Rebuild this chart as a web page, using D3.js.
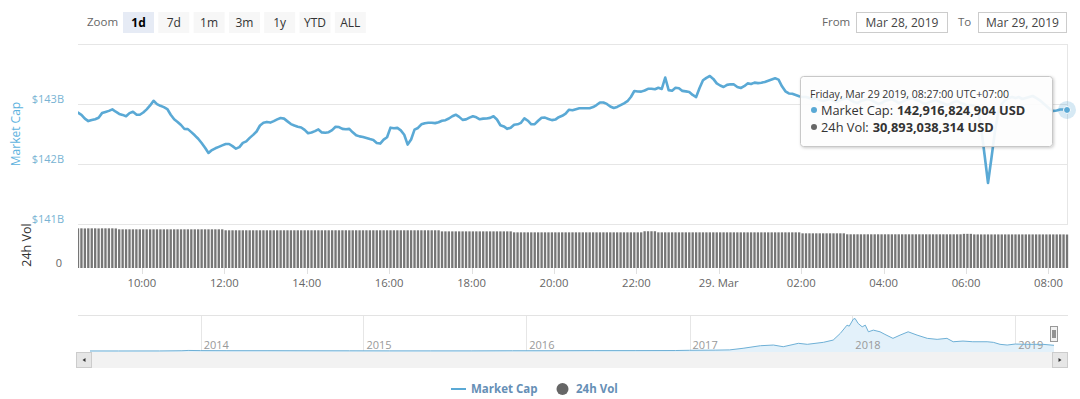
<!DOCTYPE html>
<html>
<head>
<meta charset="utf-8">
<script src="https://cdn.jsdelivr.net/npm/d3@7"></script>
<style>
  html, body { margin: 0; padding: 0; background: #fff; }
  svg { display: block; font-family: "Open Sans", sans-serif; }
</style>
</head>
<body>
<div id="chart"></div>
<script>
// 1d view, one point every 5 minutes (times in UTC+07:00)
const startTime = '2019-03-28 08:27';
const stepMinutes = 5;

// market cap, billions USD
const marketCap = [
  142.872,142.837,142.772,142.732,142.750,142.763,142.788,142.865,142.884,142.902,142.928,142.888,
  142.852,142.835,142.812,142.865,142.888,142.840,142.837,142.875,142.927,142.993,143.070,143.015,
  142.986,142.965,142.933,142.838,142.762,142.718,142.667,142.600,142.598,142.548,142.495,142.438,
  142.367,142.288,142.200,142.248,142.278,142.302,142.327,142.350,142.350,142.315,142.272,142.297,
  142.368,142.394,142.452,142.502,142.558,142.658,142.703,142.718,142.707,142.732,142.760,142.783,
  142.773,142.727,142.682,142.658,142.637,142.625,142.585,142.530,142.543,142.565,142.593,142.543,
  142.538,142.547,142.582,142.638,142.632,142.602,142.595,142.602,142.545,142.495,142.477,142.467,
  142.450,142.432,142.418,142.368,142.357,142.423,142.462,142.622,142.613,142.618,142.577,142.505,
  142.340,142.425,142.590,142.617,142.678,142.697,142.705,142.705,142.698,142.712,142.737,142.747,
  142.775,142.812,142.838,142.802,142.752,142.760,142.790,142.813,142.795,142.762,142.773,142.775,
  142.785,142.812,142.758,142.663,142.643,142.603,142.622,142.672,142.678,142.703,142.778,142.738,
  142.678,142.680,142.737,142.787,142.790,142.768,142.748,142.757,142.797,142.820,142.857,142.922,
  142.913,142.930,142.945,142.945,142.945,142.947,142.965,142.999,143.042,143.042,143.018,142.975,
  142.950,142.968,142.997,143.027,143.063,143.133,143.233,143.225,143.223,143.242,143.270,143.272,
  143.263,143.288,143.268,143.458,143.248,143.238,143.287,143.280,143.235,143.227,143.217,143.167,
  143.133,143.283,143.412,143.453,143.483,143.435,143.360,143.325,143.300,143.335,143.345,143.343,
  143.300,143.283,143.313,143.360,143.350,143.373,143.365,143.372,143.385,143.405,143.425,143.445,
  143.423,143.312,143.228,143.193,143.187,143.168,143.147,143.133,143.133,143.117,143.100,143.117,
  143.083,143.067,143.083,143.100,143.067,143.050,143.083,143.100,143.117,143.083,143.050,143.033,
  143.067,143.083,143.100,143.083,143.050,143.017,143.033,143.067,143.083,143.100,143.067,143.033,
  143.050,143.083,143.100,143.117,143.083,143.067,143.033,143.017,143.050,143.067,143.083,143.050,
  143.033,143.000,143.017,143.050,143.067,143.033,143.017,142.983,143.000,142.983,142.950,142.617,
  142.167,141.700,142.117,142.550,142.883,143.017,143.083,143.117,143.133,143.117,143.133,143.100,
  143.117,143.133,143.150,143.117,143.083,143.033,142.983,142.933,142.900,142.908,142.925,142.925,
  142.917
];

// 24h volume, billions USD
const volume24h = [
  36.6,36.6,36.5,36.6,36.6,36.6,36.5,36.6,36.6,36.6,36.6,36.5,
  35.7,35.7,35.7,35.7,35.7,35.7,35.7,35.7,35.7,35.7,35.7,35.7,
  35.7,35.7,35.7,35.7,35.7,35.7,35.7,35.7,35.7,35.7,35.7,35.7,
  35.7,35.7,35.7,35.7,35.7,35.7,35.7,34.8,34.8,34.8,34.8,34.8,
  34.8,34.8,34.8,34.8,34.8,34.8,34.8,34.8,34.8,34.8,34.8,34.8,
  34.8,34.8,34.8,34.8,34.8,34.8,34.8,34.8,34.8,34.8,34.8,34.8,
  34.8,34.8,34.8,34.8,34.8,34.8,34.8,34.8,34.8,34.8,34.8,34.8,
  34.8,34.8,34.8,34.8,34.8,34.8,34.8,34.8,34.8,34.8,34.8,34.8,
  34.8,34.8,34.8,34.8,34.8,34.8,34.8,34.8,34.8,34.8,33.8,33.8,
  33.8,33.8,33.8,33.8,33.8,33.8,33.8,33.8,33.8,33.8,33.8,33.8,
  33.8,33.8,33.8,33.8,33.8,33.8,33.8,32.9,32.9,32.9,32.9,32.9,
  32.9,32.9,32.9,32.9,32.9,32.9,32.9,32.9,32.9,32.9,32.9,32.9,
  32.9,32.9,32.9,32.9,32.9,32.9,32.9,32.9,32.9,32.9,32.9,32.9,
  32.9,32.9,32.9,32.9,32.9,32.9,32.9,32.9,32.9,33.9,33.9,33.9,
  33.9,32.9,32.9,32.9,32.9,32.9,32.9,32.9,32.9,32.9,32.9,32.9,
  32.9,32.9,32.9,32.9,32.9,32.9,32.9,32.9,32.9,32.9,32.9,32.9,
  32.9,32.9,32.9,32.9,32.9,32.9,32.9,32.9,32.9,32.9,32.9,32.9,
  32.9,32.9,32.9,32.9,32.9,32.9,32.9,32.0,32.0,32.0,32.0,32.0,
  32.0,32.0,32.0,32.0,32.0,32.0,32.0,32.0,31.1,31.1,31.1,31.1,
  31.1,31.1,31.1,31.1,31.1,31.1,31.1,31.1,31.1,31.1,31.1,31.1,
  31.1,31.1,31.1,31.1,31.1,31.1,31.1,31.1,31.1,31.1,31.1,31.1,
  31.1,31.1,31.1,31.1,31.1,31.1,31.5,31.5,31.5,31.0,31.0,31.0,
  31.0,31.0,31.0,31.0,31.0,31.0,31.0,31.0,31.0,31.0,31.0,31.0,
  31.0,31.0,31.0,31.0,31.0,31.0,31.0,31.0,31.0,31.0,31.0,31.0,
  30.89
];

const capTicks = [141, 142, 143];
const volTicks = [0];

const zoomButtons = ['1d', '7d', '1m', '3m', '1y', 'YTD', 'ALL'];
const selectedZoom = '1d';
const fromDate = 'Mar 28, 2019';
const toDate = 'Mar 29, 2019';

// navigator: whole history, billions USD
const navDates = [
  '2013-04-28','2013-07-01','2013-10-01','2013-11-20','2013-12-04','2014-01-01','2014-03-01',
  '2014-06-01','2014-09-01','2014-12-01','2015-03-01','2015-06-01','2015-09-01','2015-12-01',
  '2016-03-01','2016-06-01','2016-09-01','2016-12-01','2017-01-01','2017-03-01','2017-04-01',
  '2017-05-01','2017-06-09','2017-07-08','2017-07-30','2017-09-02','2017-09-22','2017-10-28',
  '2017-11-19','2017-12-05','2017-12-20','2017-12-25','2018-01-03','2018-01-07','2018-01-14',
  '2018-01-23','2018-01-30','2018-02-06','2018-02-17','2018-03-04','2018-03-15','2018-04-02',
  '2018-04-18','2018-05-06','2018-05-26','2018-06-18','2018-07-10','2018-08-01','2018-08-15',
  '2018-09-06','2018-09-28','2018-10-30','2018-11-13','2018-11-28','2018-12-14','2019-01-01',
  '2019-01-27','2019-03-04','2019-03-29'
];
const navCap = [
  1.5, 1.0, 1.6, 7, 14, 10, 8,
  8, 6, 5, 3.5, 3.5, 3.5, 6.5,
  7, 10, 10, 12, 18, 22, 28,
  68, 133, 150, 108, 193, 168, 218,
  275, 443, 650, 625, 800, 818, 693,
  608, 650, 483, 525, 483, 418, 318,
  400, 483, 400, 318, 293, 318, 233,
  250, 233, 233, 218, 168, 150, 175,
  168, 168, 143
];

const tooltipTitle = 'Friday, Mar 29 2019, 08:27:00 UTC+07:00';
const tooltipCap = 142916824904;
const tooltipVol = 30893038314;

const lineColor = '#5aa9d5';
const width = 1080, height = 399;
const plotLeft = 78, plotRight = 1067;

const svg = d3.select('#chart').append('svg')
  .attr('width', width)
  .attr('height', height);

svg.append('rect').attr('width', width).attr('height', height).attr('fill', '#fff');

const defs = svg.append('defs');
defs.append('clipPath').attr('id', 'plotClip')
  .append('rect').attr('x', plotLeft).attr('y', 45)
  .attr('width', plotRight - plotLeft + 2).attr('height', 224);
const shadow = defs.append('filter').attr('id', 'tipShadow')
  .attr('x', '-10%').attr('y', '-20%').attr('width', '130%').attr('height', '150%');
shadow.append('feDropShadow').attr('dx', 1).attr('dy', 1).attr('stdDeviation', 1.6)
  .attr('flood-color', '#000').attr('flood-opacity', 0.22);

// ---------- range selector ----------
const selector = svg.append('g').attr('font-size', 12);
selector.append('text').attr('x', 87).attr('y', 26).attr('fill', '#666')
  .attr('font-size', 11.5).text('Zoom');

const btn = selector.selectAll('g.btn').data(zoomButtons).join('g')
  .attr('class', 'btn')
  .attr('transform', (d, i) => `translate(${123 + i * 35.3},12)`);
btn.append('rect').attr('width', 31).attr('height', 21)
  .attr('fill', d => d === selectedZoom ? '#e6ebf5' : '#f7f7f7');
btn.append('text').attr('x', 15.5).attr('y', 15).attr('text-anchor', 'middle')
  .attr('fill', d => d === selectedZoom ? '#000' : '#333')
  .attr('font-weight', d => d === selectedZoom ? 'bold' : 'normal')
  .text(d => d);

selector.append('text').attr('x', 822).attr('y', 26).attr('fill', '#666')
  .attr('font-size', 11.5).text('From');
selector.append('text').attr('x', 958).attr('y', 26).attr('fill', '#666')
  .attr('font-size', 11.5).text('To');
[[856, 91, fromDate], [978, 88, toDate]].forEach(([bx, w, label]) => {
  selector.append('rect').attr('x', bx + 0.5).attr('y', 12.5).attr('width', w).attr('height', 20)
    .attr('fill', '#fff').attr('stroke', '#cccccc');
  selector.append('text').attr('x', bx + w / 2 + 0.5).attr('y', 27).attr('text-anchor', 'middle')
    .attr('fill', '#444').text(label);
});

// ---------- scales ----------
const parseTime = d3.utcParse('%Y-%m-%d %H:%M');
const t0 = parseTime(startTime);
const times = marketCap.map((_, i) => d3.utcMinute.offset(t0, i * stepMinutes));
const points = times.map((t, i) => ({t, cap: marketCap[i], vol: volume24h[i]}));

const x = d3.scaleUtc().domain(d3.extent(times)).range([plotLeft, plotRight]);
const yCap = d3.scaleLinear().domain([141, 144]).range([225, 45]);
const yVol = d3.scaleLinear().domain([0, 40.6]).range([268, 224]);

// ---------- frame + grid ----------
const grid = svg.append('g').attr('stroke', '#e6e6e6').attr('shape-rendering', 'crispEdges');
grid.append('line').attr('x1', plotLeft).attr('x2', plotRight + 1).attr('y1', 44.5).attr('y2', 44.5);
grid.append('line').attr('x1', plotRight + 0.5).attr('x2', plotRight + 0.5).attr('y1', 44).attr('y2', 224);
grid.selectAll('line.g').data(capTicks).join('line')
  .attr('class', 'g')
  .attr('x1', plotLeft).attr('x2', plotRight + 1)
  .attr('y1', d => Math.round(yCap(d)) - 0.5).attr('y2', d => Math.round(yCap(d)) - 0.5);

const yLabels = svg.append('g').attr('font-size', 11).attr('text-anchor', 'end');
yLabels.selectAll('text.cap').data(capTicks).join('text')
  .attr('class', 'cap')
  .attr('x', 64).attr('y', d => yCap(d) - 2)
  .attr('fill', '#78b3d3')
  .text(d => `$${d}B`);
yLabels.selectAll('text.vol').data(volTicks).join('text')
  .attr('class', 'vol')
  .attr('x', 62).attr('y', d => yVol(d) - 1)
  .attr('fill', '#666')
  .text(d => d);

svg.append('text')
  .attr('transform', 'translate(20,134) rotate(-90)')
  .attr('text-anchor', 'middle').attr('font-size', 12).attr('fill', '#5db2de')
  .text('Market Cap');
svg.append('text')
  .attr('transform', 'translate(31,245) rotate(-90)')
  .attr('text-anchor', 'middle').attr('font-size', 12.5).attr('fill', '#333')
  .text('24h Vol');

// ---------- volume bars ----------
const step = x(times[1]) - x(times[0]);
const barW = step - 1.1;
svg.append('g').attr('clip-path', 'url(#plotClip)')
  .selectAll('rect').data(points).join('rect')
  .attr('x', d => x(d.t) - barW / 2)
  .attr('y', d => yVol(d.vol))
  .attr('width', barW)
  .attr('height', d => yVol(0) - yVol(d.vol))
  .attr('fill', '#767676');

// ---------- x axis ----------
const xTicks = d3.utcHour.every(2).range(d3.utcHour.ceil(times[0]), times[times.length - 1]);
const fmtHour = d3.utcFormat('%H:%M');
const fmtDay = d3.utcFormat('%d. %b');
const xAxis = svg.append('g');
xAxis.selectAll('line').data(xTicks).join('line')
  .attr('x1', d => Math.round(x(d)) + 0.5).attr('x2', d => Math.round(x(d)) + 0.5)
  .attr('y1', 268).attr('y2', 274).attr('stroke', '#e0e0e0');
xAxis.selectAll('text').data(xTicks).join('text')
  .attr('x', d => x(d)).attr('y', 287)
  .attr('text-anchor', 'middle').attr('font-size', 11.3).attr('fill', '#666')
  .text(d => d.getUTCHours() === 0 ? fmtDay(d) : fmtHour(d));

// ---------- market cap line ----------
const line = d3.line().x(d => x(d.t)).y(d => yCap(d.cap));
svg.append('path').datum(points)
  .attr('clip-path', 'url(#plotClip)')
  .attr('d', line)
  .attr('fill', 'none')
  .attr('stroke', lineColor)
  .attr('stroke-width', 2.6)
  .attr('stroke-linejoin', 'round')
  .attr('stroke-linecap', 'round');

// hovered point
const last = points[points.length - 1];
svg.append('circle').attr('cx', x(last.t)).attr('cy', yCap(last.cap)).attr('r', 9)
  .attr('fill', lineColor).attr('opacity', 0.25);
svg.append('circle').attr('cx', x(last.t)).attr('cy', yCap(last.cap)).attr('r', 3.5)
  .attr('fill', lineColor).attr('stroke', '#fff').attr('stroke-width', 1);

// ---------- navigator ----------
const parseDay = d3.utcParse('%Y-%m-%d');
const nav = navDates.map((d, i) => ({t: parseDay(d), v: navCap[i]}));
const xNav = d3.scaleUtc().domain(d3.extent(nav, d => d.t)).range([90, 1054]);
const yNav = d3.scaleLinear().domain([0, 830]).range([351, 318]);

const navG = svg.append('g');
navG.append('line').attr('x1', plotLeft).attr('x2', 1068).attr('y1', 315.5).attr('y2', 315.5)
  .attr('stroke', '#e3e3e3');
const years = xNav.ticks(d3.utcYear.every(1));
navG.selectAll('line.yr').data(years).join('line')
  .attr('class', 'yr')
  .attr('x1', d => Math.round(xNav(d)) + 0.5).attr('x2', d => Math.round(xNav(d)) + 0.5)
  .attr('y1', 316).attr('y2', 352).attr('stroke', '#e6e6e6');
navG.append('path').datum(nav)
  .attr('d', d3.area().x(d => xNav(d.t)).y0(352).y1(d => yNav(d.v)))
  .attr('fill', '#e3f1fa');
navG.selectAll('text').data(years).join('text')
  .attr('x', d => xNav(d) + 3).attr('y', 349)
  .attr('font-size', 11).attr('fill', '#999')
  .text(d => d.getUTCFullYear());
navG.append('path').datum(nav)
  .attr('d', d3.line().x(d => xNav(d.t)).y(d => yNav(d.v)))
  .attr('fill', 'none').attr('stroke', '#6eb0d6').attr('stroke-width', 1);

// handle at the selected day
const hx = xNav(nav[nav.length - 1].t) - 4;
navG.append('rect').attr('x', hx + 0.5).attr('y', 326.5).attr('width', 7).attr('height', 15)
  .attr('fill', '#f2f2f2').attr('stroke', '#999');
[2.5, 4.5].forEach(o => navG.append('line')
  .attr('x1', hx + 0.5 + o).attr('x2', hx + 0.5 + o).attr('y1', 330).attr('y2', 338)
  .attr('stroke', '#333'));

// scrollbar
const sb = svg.append('g');
sb.append('rect').attr('x', 76).attr('y', 352).attr('width', 992).attr('height', 16)
  .attr('fill', '#f2f2f2');
[[76, -1], [1052, 1]].forEach(([bx, dir]) => {
  sb.append('rect').attr('x', bx + 0.5).attr('y', 352.5).attr('width', 15).attr('height', 15)
    .attr('fill', '#e6e6e6').attr('stroke', '#cccccc');
  const cx = bx + 8, cy = 360;
  sb.append('path')
    .attr('d', `M${cx - 1.5 * dir},${cy - 2}L${cx + 1.5 * dir},${cy}L${cx - 1.5 * dir},${cy + 2}Z`)
    .attr('fill', '#333');
});

// ---------- legend ----------
const legend = svg.append('g').attr('font-size', 11.5).attr('font-weight', 'bold');
legend.append('line').attr('x1', 451).attr('x2', 466).attr('y1', 389).attr('y2', 389)
  .attr('stroke', lineColor).attr('stroke-width', 2);
legend.append('text').attr('x', 471).attr('y', 393).attr('fill', '#668fb6').text('Market Cap');
legend.append('circle').attr('cx', 562.5).attr('cy', 389).attr('r', 6).attr('fill', '#666');
legend.append('text').attr('x', 576).attr('y', 393).attr('fill', '#668fb6').text('24h Vol');

// ---------- tooltip ----------
const fmtNum = d3.format(',');
const tip = svg.append('g').attr('transform', 'translate(800.5,76.5)');
tip.append('rect').attr('width', 252).attr('height', 70).attr('rx', 3)
  .attr('fill', 'rgba(255,255,255,0.9)').attr('stroke', '#c8c8c8')
  .attr('filter', 'url(#tipShadow)');
tip.append('text').attr('x', 9.5).attr('y', 21.5).attr('font-size', 10.5).attr('fill', '#333')
  .text(tooltipTitle);
const rows = [
  {color: lineColor, name: 'Market Cap', value: tooltipCap, y: 38},
  {color: '#666', name: '24h Vol', value: tooltipVol, y: 55}
];
rows.forEach(r => {
  tip.append('circle').attr('cx', 13.5).attr('cy', r.y - 4.5).attr('r', 3).attr('fill', r.color);
  const label = tip.append('text').attr('x', 20.5).attr('y', r.y)
    .attr('font-size', 12.8).attr('fill', '#333')
    .text(`${r.name}:`);
  const lw = label.node().getComputedTextLength();
  tip.append('text').attr('x', 20.5 + lw + 4).attr('y', r.y)
    .attr('font-size', 12.8).attr('font-weight', 'bold').attr('fill', '#333')
    .text(`${fmtNum(r.value)} USD`);
});
</script>
</body>
</html>
